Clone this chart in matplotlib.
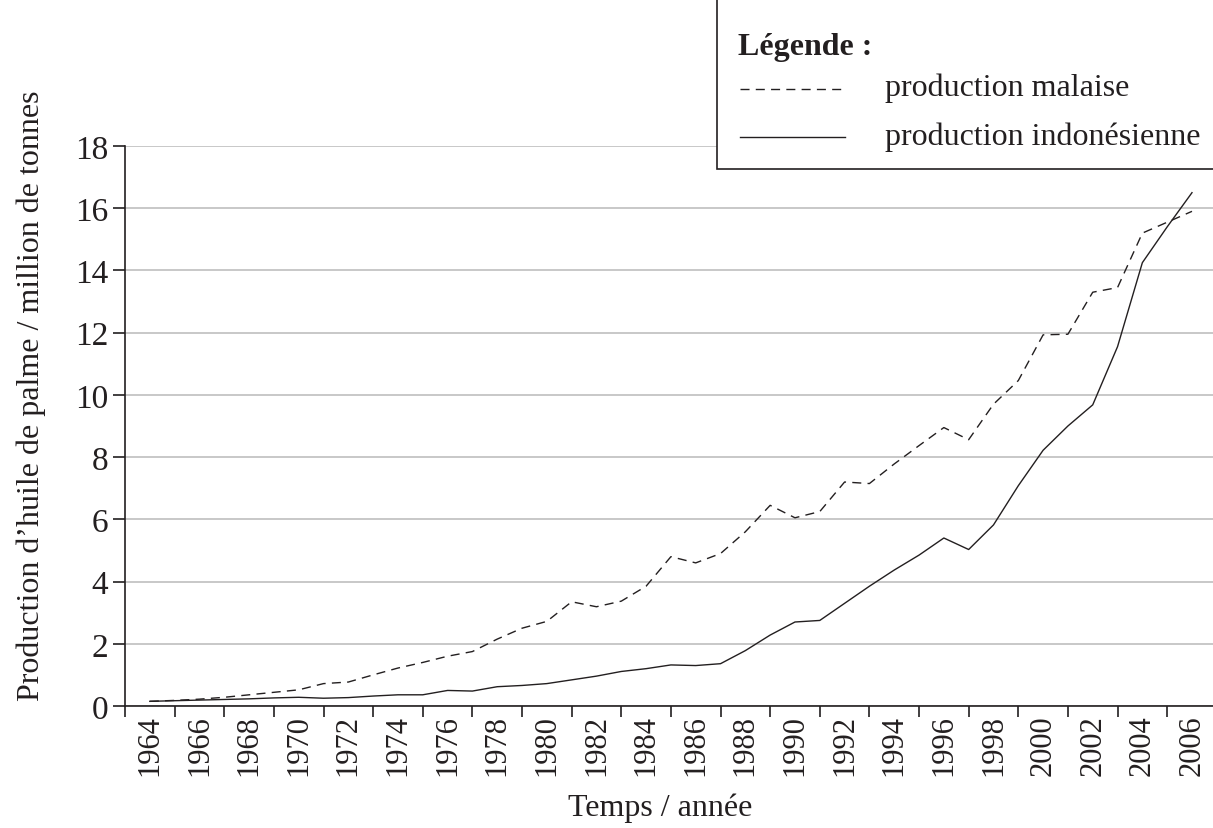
import matplotlib
matplotlib.use("Agg")
import matplotlib.pyplot as plt
from matplotlib.lines import Line2D
from matplotlib.patches import Rectangle

# Données (million de tonnes)
annees = list(range(1964, 2007))
malaisie = [0.15, 0.18, 0.22, 0.28, 0.36, 0.44, 0.52, 0.72, 0.77, 1.0,
            1.22, 1.4, 1.6, 1.75, 2.15, 2.5, 2.72, 3.35, 3.19, 3.37,
            3.85, 4.8, 4.6, 4.9, 5.6, 6.45, 6.05, 6.25, 7.2, 7.15,
            7.78, 8.37, 8.95, 8.56, 9.7, 10.46, 11.93, 11.95, 13.3, 13.45,
            15.2, 15.55, 15.9]
indonesie = [0.15, 0.17, 0.19, 0.21, 0.23, 0.26, 0.28, 0.25, 0.27, 0.32,
             0.36, 0.36, 0.5, 0.48, 0.62, 0.66, 0.72, 0.84, 0.96, 1.11,
             1.2, 1.32, 1.3, 1.36, 1.78, 2.28, 2.7, 2.75, 3.3, 3.85,
             4.37, 4.85, 5.4, 5.03, 5.82, 7.08, 8.22, 9.0, 9.68, 11.55,
             14.25, 15.4, 16.5]
yticks = list(range(0, 19, 2))
xlabels = list(range(1964, 2007, 2))

plt.rcParams["font.family"] = ["Liberation Serif", "DejaVu Serif"]
FS = 23
COL = "#231f20"
DASH = (6.5, 4.5)

fig = plt.figure(figsize=(12.13, 8.29), dpi=100)
fig.patch.set_facecolor("white")
ax = fig.add_axes([125 / 1213, 1 - 707 / 829, 1091.8 / 1213, 560 / 829])

ax.plot(annees, malaisie, color=COL, lw=1.0, dashes=DASH)
ax.plot(annees, indonesie, color=COL, lw=1.0)

ax.set_xlim(1963, 2007)
ax.set_ylim(0, 18)
ax.set_yticks(yticks)
ax.grid(axis="y", color="#c4c4c4", lw=1.3)
ax.set_axisbelow(True)

# graduations aux années impaires, étiquettes aux années paires
ax.set_xticks(range(1963, 2008, 2))
ax.set_xticklabels([])
ax.set_xticks(xlabels, minor=True)
ax.set_xticklabels([str(a) for a in xlabels], minor=True, rotation=90)
ax.tick_params(axis="x", which="major", length=8, width=1.2, color=COL)
ax.tick_params(axis="x", which="minor", length=0, pad=6, labelsize=FS - 1,
               labelcolor=COL)
ax.tick_params(axis="y", length=9, width=1.2, color=COL, labelsize=FS + 1,
               labelcolor=COL, pad=3)

for s in ("top", "right"):
    ax.spines[s].set_visible(False)
for s in ("left", "bottom"):
    ax.spines[s].set_color(COL)
    ax.spines[s].set_linewidth(1.2)

ax.set_ylabel("Production d’huile de palme / million de tonnes",
              fontsize=FS, color=COL, labelpad=14)
ax.yaxis.set_label_coords(-0.072, 0.555)
ax.set_xlabel("Temps / année", fontsize=FS, color=COL, labelpad=12)
ax.xaxis.set_label_coords(0.49, -0.155)

# légende dessinée à la main (cadre blanc en haut à droite)
W, H = 1213, 829
fig.patches.append(Rectangle((717 / W, 1 - 170 / H), 500 / W, 175 / H,
                             transform=fig.transFigure, facecolor="white",
                             edgecolor=COL, lw=1.2, zorder=5))
fig.text(738 / W, 1 - 47 / H, "Légende :", fontsize=FS, fontweight="bold",
         color=COL, va="center", zorder=6)
fig.lines.append(Line2D([740 / W, 845 / W], [1 - 90 / H, 1 - 90 / H],
                        transform=fig.transFigure, color=COL, lw=1.0,
                        dashes=DASH, zorder=6))
fig.text(885 / W, 1 - 88 / H, "production malaise", fontsize=FS,
         color=COL, va="center", zorder=6)
fig.lines.append(Line2D([740 / W, 845 / W], [1 - 138 / H, 1 - 138 / H],
                        transform=fig.transFigure, color=COL, lw=1.0,
                        zorder=6))
fig.text(885 / W, 1 - 137 / H, "production indonésienne", fontsize=FS,
         color=COL, va="center", zorder=6)

fig.savefig("out.png", dpi=100, facecolor="white")
